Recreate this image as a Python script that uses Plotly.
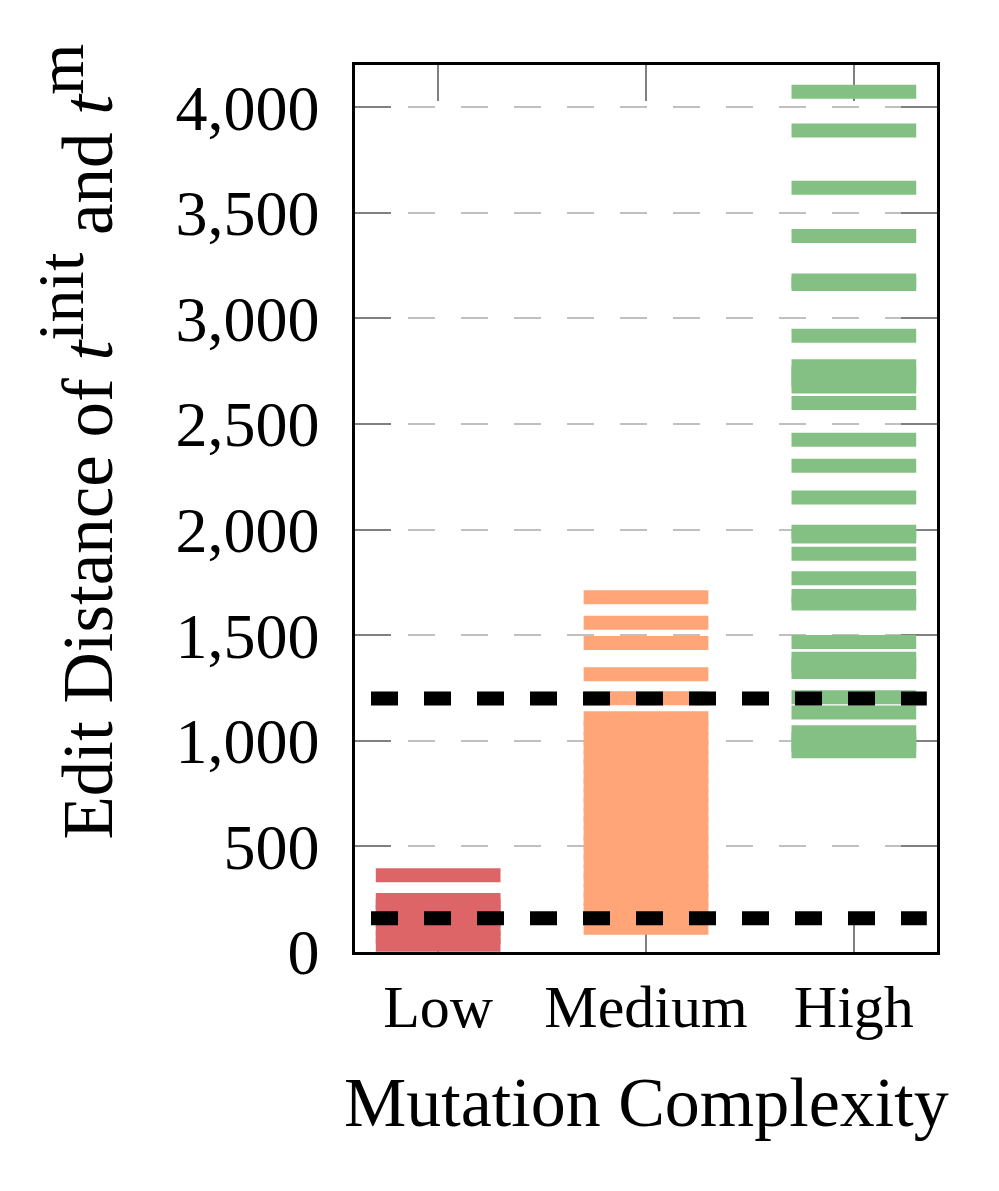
import plotly.graph_objects as go

# ---- data ----
categories = ["Low", "Medium", "High"]
low_values = [34, 70, 110, 150, 190, 220, 246, 364]
medium_values = [115, 160, 200, 250, 290, 340, 380, 430, 470, 520, 560, 610, 650,
                 700, 740, 790, 830, 880, 920, 970, 1010, 1060, 1107,
                 1202, 1315, 1463, 1559, 1680]
high_values = [951, 980, 1010, 1041, 1134, 1206, 1326, 1358, 1389, 1468,
               1650, 1686, 1770, 1886, 1968, 1990, 2152, 2302, 2426, 2600,
               2678, 2710, 2740, 2774, 2918, 3163, 3180, 3390, 3619, 3890, 4073]
thresholds = [1200, 160]
y_ticks = [0, 500, 1000, 1500, 2000, 2500, 3000, 3500, 4000]

colors = ["#DD6467", "#FFA577", "#84BF83"]
series = [low_values, medium_values, high_values]

HALF = 0.3
FONT = "Liberation Serif, Times New Roman, serif"

fig = go.Figure()

for i, (vals, col) in enumerate(zip(series, colors)):
    xs, ys = [], []
    for v in vals:
        xs += [i - HALF, i + HALF, None]
        ys += [v, v, None]
    fig.add_trace(go.Scatter(x=xs, y=ys, mode="lines",
                             line=dict(color=col, width=14),
                             hoverinfo="skip", showlegend=False))

for t in thresholds:
    fig.add_trace(go.Scatter(x=[-0.323, 2.351], y=[t, t], mode="lines",
                             line=dict(color="black", width=14, dash="27px,26px"),
                             hoverinfo="skip", showlegend=False))

fig.update_layout(
    width=999, height=1191,
    margin=dict(l=355, r=62, t=65, b=239),
    plot_bgcolor="white", paper_bgcolor="white",
    font=dict(family=FONT, color="black", size=60),
)

fig.update_xaxes(
    range=[-0.4, 2.4],
    tickvals=[0, 1, 2], ticktext=categories,
    ticks="inside", ticklen=36, tickwidth=2, tickcolor="#808080",
    showline=True, linecolor="black", linewidth=2.5, mirror="ticks",
    showgrid=False, zeroline=False,
    tickfont=dict(family=FONT, size=60, color="black"),
    ticklabelstandoff=0,
    layer="below traces",
)

fig.update_yaxes(
    range=[0, 4200],
    tickvals=y_ticks, tickformat=",d",
    ticks="inside", ticklen=36, tickwidth=2, tickcolor="#808080",
    showline=True, linecolor="black", linewidth=2.5, mirror="ticks",
    showgrid=True, gridcolor="#C0C0C0", gridwidth=2, griddash="27px,26px",
    zeroline=False,
    tickfont=dict(family=FONT, size=64, color="black"),
    ticklabelstandoff=20,
    layer="below traces",
)

fig.add_annotation(
    text="Mutation Complexity", xref="paper", yref="paper",
    x=0.5, y=-0.1245, xanchor="center", yanchor="top", showarrow=False,
    font=dict(family=FONT, size=70, color="black"),
)
fig.add_annotation(
    text=("Edit Distance of <i>t</i><sup><span style=\"font-size:66px\">init</span></sup>"
          " and <i>t</i><sup><span style=\"font-size:66px\">m</span></sup>"),
    xref="paper", yref="paper", x=-0.48, y=0.575,
    xanchor="center", yanchor="middle", textangle=-90, showarrow=False,
    font=dict(family=FONT, size=71, color="black"),
)

fig.write_html("out.html", post_script="document.body.style.margin='0px';",
               config={"displayModeBar": False})
